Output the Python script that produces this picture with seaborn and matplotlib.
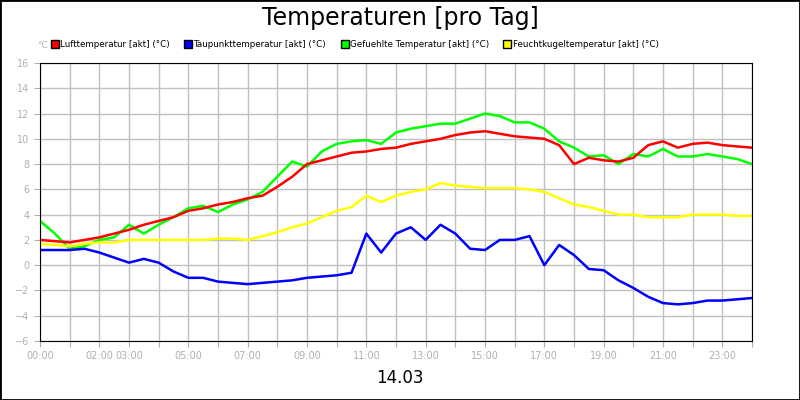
import matplotlib
matplotlib.use("Agg")
import matplotlib.pyplot as plt
import numpy as np
import pandas as pd
import seaborn as sns
from matplotlib.patches import Rectangle
from matplotlib.lines import Line2D

hours = [i * 0.5 for i in range(49)]

luft = [2.0, 1.9, 1.8, 2.0, 2.2, 2.5, 2.8, 3.2, 3.5, 3.8, 4.3, 4.5, 4.8, 5.0, 5.3, 5.5,
        6.2, 7.0, 8.0, 8.3, 8.6, 8.9, 9.0, 9.2, 9.3, 9.6, 9.8, 10.0, 10.3, 10.5, 10.6, 10.4,
        10.2, 10.1, 10.0, 9.5, 8.0, 8.5, 8.3, 8.2, 8.5, 9.5, 9.8, 9.3, 9.6, 9.7, 9.5, 9.4, 9.3]
tau = [1.2, 1.2, 1.2, 1.3, 1.0, 0.6, 0.2, 0.5, 0.2, -0.5, -1.0, -1.0, -1.3, -1.4, -1.5, -1.4,
       -1.3, -1.2, -1.0, -0.9, -0.8, -0.6, 2.5, 1.0, 2.5, 3.0, 2.0, 3.2, 2.5, 1.3, 1.2, 2.0,
       2.0, 2.3, 0.0, 1.6, 0.8, -0.3, -0.4, -1.2, -1.8, -2.5, -3.0, -3.1, -3.0, -2.8, -2.8, -2.7, -2.6]
gefuehlt = [3.5, 2.5, 1.3, 1.5, 2.0, 2.2, 3.2, 2.5, 3.2, 3.8, 4.5, 4.7, 4.2, 4.8, 5.2, 5.8,
            7.0, 8.2, 7.8, 9.0, 9.6, 9.8, 9.9, 9.6, 10.5, 10.8, 11.0, 11.2, 11.2, 11.6, 12.0, 11.8,
            11.3, 11.3, 10.8, 9.8, 9.3, 8.6, 8.7, 8.0, 8.8, 8.6, 9.2, 8.6, 8.6, 8.8, 8.6, 8.4, 8.0]
feucht = [1.7, 1.6, 1.5, 1.7, 1.8, 1.8, 2.0, 2.0, 2.0, 2.0, 2.0, 2.0, 2.1, 2.1, 2.0, 2.3,
          2.6, 3.0, 3.3, 3.8, 4.3, 4.6, 5.5, 5.0, 5.5, 5.8, 6.0, 6.5, 6.3, 6.2, 6.1, 6.1,
          6.1, 6.0, 5.8, 5.3, 4.8, 4.6, 4.3, 4.0, 4.0, 3.8, 3.8, 3.8, 4.0, 4.0, 4.0, 3.9, 3.9]

series_names = ["Lufttemperatur [akt] (°C)", "Taupunkttemperatur [akt] (°C)",
                "Gefuehlte Temperatur [akt] (°C)", "Feuchtkugeltemperatur [akt] (°C)"]
colors = ["#ff0000", "#0000ff", "#00ff00", "#ffff00"]
tick_labels = ["00:00", "", "02:00", "03:00", "", "05:00", "", "07:00", "", "09:00", "", "11:00", "",
               "13:00", "", "15:00", "", "17:00", "", "19:00", "", "21:00", "", "23:00", ""]

df = pd.DataFrame({"h": hours * 4,
                   "v": luft + tau + gefuehlt + feucht,
                   "s": np.repeat(series_names, len(hours))})

fig = plt.figure(figsize=(8, 4), dpi=100)
fig.patches.append(Rectangle((0, 0), 1, 1, transform=fig.transFigure, fill=False,
                             edgecolor="black", linewidth=2))
ax = fig.add_axes([0.05, 0.1475, 0.89, 0.695])
# green under the others, as in the reference
order = [series_names[2], series_names[3], series_names[1], series_names[0]]
for name in order:
    sub = df[df["s"] == name]
    sns.lineplot(data=sub, x="h", y="v", ax=ax, color=colors[series_names.index(name)],
                 linewidth=1.8, legend=False)

ax.set_xlim(0, 24)
ax.set_ylim(-6, 16)
ax.set_xticks(range(25))
ax.set_xticklabels(tick_labels)
ax.set_yticks(range(-6, 17, 2))
ax.grid(True, color="#c0c0c0", linewidth=1)
ax.set_axisbelow(True)
ax.tick_params(colors="#b0b0b0", labelsize=7, length=4)
for sp in ax.spines.values():
    sp.set_color("black")
ax.set_xlabel("")
ax.set_ylabel("")

fig.text(0.5, 0.955, "Temperaturen [pro Tag]", ha="center", va="center", fontsize=17)
fig.text(0.5, 0.055, "14.03", ha="center", va="center", fontsize=12)
fig.text(0.047, 0.885, "°C", ha="left", va="center", fontsize=6.5, color="#b0b0b0")

handles = [Line2D([], [], marker="s", linestyle="", markerfacecolor=c, markeredgecolor="black",
                  markersize=5.5) for c in colors]
fig.legend(handles, series_names, loc="center left", bbox_to_anchor=(0.063, 0.888), ncol=4,
           frameon=False, fontsize=6.3, handletextpad=0.1, columnspacing=1.6,
           borderaxespad=0, borderpad=0, handlelength=1)

fig.savefig("out.png", dpi=100)
